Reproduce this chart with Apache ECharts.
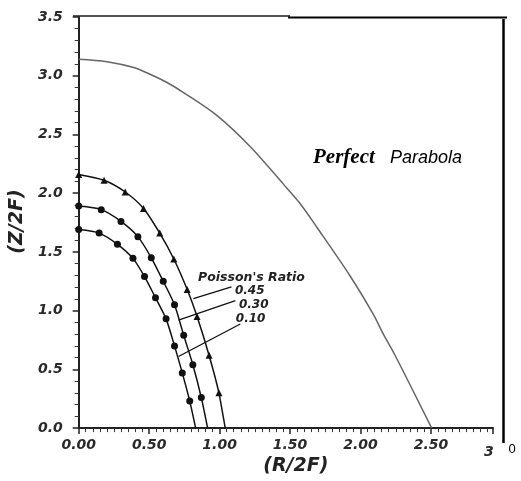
<!DOCTYPE html>
<html>
<head>
<meta charset="utf-8">
<script src="https://cdn.jsdelivr.net/npm/echarts@6/dist/echarts.min.js"></script>
<style>
html,body{margin:0;padding:0;background:#fff;}
#chart{width:521px;height:481px;}
</style>
</head>
<body>
<div id="chart"></div>
<script>
// Curve for Poisson's ratio 0.45 (triangles)
const r045 = [0, 0.18, 0.33, 0.46, 0.575, 0.675, 0.77, 0.84, 0.925, 0.995, 1.04];
const z045 = [2.16, 2.11, 2.01, 1.87, 1.66, 1.44, 1.18, 0.95, 0.62, 0.30, 0];
// Curve for Poisson's ratio 0.30
const r030 = [0, 0.16, 0.30, 0.42, 0.515, 0.60, 0.68, 0.745, 0.81, 0.87, 0.915];
const z030 = [1.89, 1.86, 1.76, 1.63, 1.45, 1.25, 1.05, 0.79, 0.54, 0.26, 0];
// Curve for Poisson's ratio 0.10
const r010 = [0, 0.145, 0.275, 0.385, 0.467, 0.545, 0.62, 0.68, 0.735, 0.788, 0.83];
const z010 = [1.69, 1.66, 1.565, 1.445, 1.29, 1.11, 0.93, 0.70, 0.47, 0.23, 0];
// Perfect parabola
const rPar = [0, 0.2, 0.39, 0.51, 0.63, 0.746, 0.982, 1.218, 1.454, 1.572, 1.69, 1.926, 2.09, 2.162, 2.245, 2.505];
const zPar = [3.14, 3.12, 3.07, 3.01, 2.94, 2.855, 2.66, 2.395, 2.075, 1.91, 1.71, 1.295, 0.97, 0.80, 0.62, 0];
// Leader lines from ratio labels to curves: [label end, curve end]
const leaderLabels = ['0.45', '0.30', '0.10'];
const leaderR = [[1.084, 0.814], [1.112, 0.708], [1.147, 0.708]];
const leaderZ = [[1.203, 1.103], [1.086, 0.919], [0.886, 0.61]];
// Axis tick settings
const xTicks = {min: 0, max: 2.94, interval: 0.5};
const yTicks = {min: 0, max: 3.5, interval: 0.5};

const tickFont = {fontFamily: 'DejaVu Sans', fontWeight: 'bold', fontStyle: 'italic', fontSize: 14, color: '#2a2a2a'};

function pts(rs, zs, lastNone) {
  return rs.map((r, i) => {
    const p = {value: [r, zs[i]]};
    if (lastNone && i === rs.length - 1) p.symbol = 'none';
    return p;
  });
}

const series = [
  {type: 'line', data: pts(rPar, zPar, false), symbol: 'none', smooth: 0.3,
   lineStyle: {color: '#666', width: 1.5}, z: 2},
  {type: 'line', data: pts(r045, z045, true), symbol: 'triangle', symbolSize: 7, smooth: 0.25,
   itemStyle: {color: '#111'}, lineStyle: {color: '#111', width: 1.5}},
  {type: 'line', data: pts(r030, z030, true), symbol: 'circle', symbolSize: 7, smooth: 0.25,
   itemStyle: {color: '#111'}, lineStyle: {color: '#111', width: 1.5}},
  {type: 'line', data: pts(r010, z010, true), symbol: 'circle', symbolSize: 7, smooth: 0.25,
   itemStyle: {color: '#111'}, lineStyle: {color: '#111', width: 1.5}}
];
leaderLabels.forEach((lab, k) => {
  const off = k === 2 ? [-8, -5] : [0, 4];
  series.push({
    type: 'line', symbol: 'circle', symbolSize: 1, silent: true,
    itemStyle: {color: 'rgba(0,0,0,0)'},
    lineStyle: {color: '#111', width: 1.3},
    data: [
      {value: [leaderR[k][0], leaderZ[k][0]],
       label: {show: true, position: 'right', distance: 3, offset: off, formatter: lab,
               fontFamily: 'DejaVu Sans', fontWeight: 'bold', fontStyle: 'italic', fontSize: 12, color: '#222'}},
      {value: [leaderR[k][1], leaderZ[k][1]]}
    ]
  });
});

const chart = echarts.init(document.getElementById('chart'));
chart.setOption({
  animation: false,
  backgroundColor: '#fff',
  grid: {left: 78, right: 28, top: 17, bottom: 46},
  xAxis: {
    type: 'value', min: xTicks.min, max: xTicks.max, interval: xTicks.interval,
    name: '(R/2F)', nameLocation: 'middle', nameGap: 24,
    nameTextStyle: {fontFamily: 'DejaVu Sans', fontWeight: 'bold', fontStyle: 'italic', fontSize: 19, color: '#222', padding: [0, 0, 0, 20]},
    axisLine: {lineStyle: {color: '#222', width: 2}},
    axisTick: {inside: false, length: 6, lineStyle: {color: '#222', width: 1.5}},
    minorTick: {show: true, splitNumber: 10, length: 4, lineStyle: {color: '#333', width: 1}},
    splitLine: {show: false},
    axisLabel: Object.assign({margin: 10, showMaxLabel: false, formatter: v => v.toFixed(2)}, tickFont)
  },
  yAxis: {
    type: 'value', min: yTicks.min, max: yTicks.max, interval: yTicks.interval,
    name: '(Z/2F)', nameLocation: 'middle', nameGap: 36, nameRotate: 90,
    nameTextStyle: {fontFamily: 'DejaVu Sans', fontWeight: 'bold', fontStyle: 'italic', fontSize: 19, color: '#222', padding: [0, 0, 0, 2]},
    axisLine: {lineStyle: {color: '#222', width: 2}},
    axisTick: {inside: false, length: 6, lineStyle: {color: '#222', width: 1.5}},
    minorTick: {show: true, splitNumber: 5, length: 4, lineStyle: {color: '#333', width: 1}},
    splitLine: {show: false},
    axisLabel: Object.assign({margin: 16, formatter: v => v.toFixed(1)}, tickFont)
  },
  graphic: [
    {type: 'line', shape: {x1: 73, y1: 16, x2: 290, y2: 16}, style: {stroke: '#555', lineWidth: 2}},
    {type: 'line', shape: {x1: 288, y1: 17.5, x2: 507, y2: 17.5}, style: {stroke: '#000', lineWidth: 2}},
    {type: 'line', shape: {x1: 503.5, y1: 19, x2: 503.5, y2: 443}, style: {stroke: '#000', lineWidth: 2.5}},
    {type: 'text', x: 512, y: 449, style: {text: '0', font: '13px "Liberation Sans"', fill: '#000', align: 'center', verticalAlign: 'middle'}},
    {type: 'text', x: 484, y: 452, style: {text: '3', font: 'italic bold 14px "DejaVu Sans"', fill: '#2a2a2a', align: 'left', verticalAlign: 'middle'}},
    {type: 'text', x: 313, y: 158, style: {text: 'Perfect', font: 'italic bold 21px "Liberation Serif"', fill: '#000', align: 'left', verticalAlign: 'middle'}},
    {type: 'text', x: 390, y: 158, style: {text: 'Parabola', font: 'italic 18px "Liberation Sans"', fill: '#000', align: 'left', verticalAlign: 'middle'}},
    {type: 'text', x: 198, y: 278, style: {text: "Poisson's Ratio", font: 'italic bold 12.5px "DejaVu Sans"', fill: '#222', align: 'left', verticalAlign: 'middle'}}
  ],
  series: series
});
</script>
</body>
</html>
